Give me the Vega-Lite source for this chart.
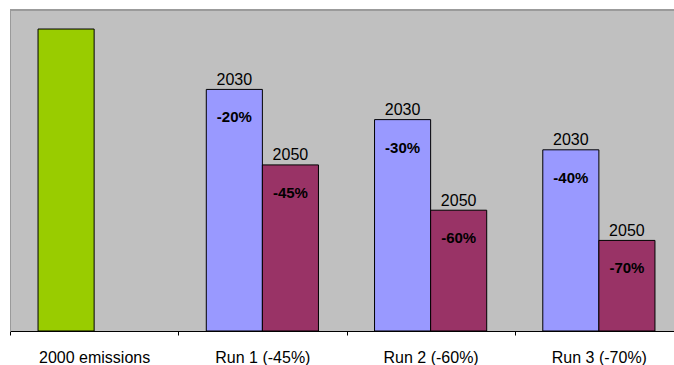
{
  "$schema": "https://vega.github.io/schema/vega-lite/v6.json",
  "autosize": "none",
  "padding": {"left": 10, "top": 10, "right": 0, "bottom": 34},
  "width": 664,
  "height": 321,
  "background": "#ffffff",
  "config": {
    "view": {"fill": "#c0c0c0", "stroke": null},
    "font": "Liberation Sans"
  },
  "data": {
    "values": [
      {"group": "2000 emissions", "slot": "a", "series": "2000", "value": 100, "year": "", "change": ""},
      {"group": "Run 1 (-45%)", "slot": "a", "series": "2030", "value": 80, "year": "2030", "change": "-20%"},
      {"group": "Run 1 (-45%)", "slot": "b", "series": "2050", "value": 55, "year": "2050", "change": "-45%"},
      {"group": "Run 2 (-60%)", "slot": "a", "series": "2030", "value": 70, "year": "2030", "change": "-30%"},
      {"group": "Run 2 (-60%)", "slot": "b", "series": "2050", "value": 40, "year": "2050", "change": "-60%"},
      {"group": "Run 3 (-70%)", "slot": "a", "series": "2030", "value": 60, "year": "2030", "change": "-40%"},
      {"group": "Run 3 (-70%)", "slot": "b", "series": "2050", "value": 30, "year": "2050", "change": "-70%"}
    ]
  },
  "layer": [
    {
      "description": "plot area top border",
      "mark": {"type": "rule", "color": "#9a9a9a", "strokeWidth": 1},
      "encoding": {
        "y": {"datum": 106.3, "type": "quantitative", "scale": {"domain": [0, 106.3], "nice": false, "zero": true}}
      }
    },
    {
      "mark": {"type": "bar", "stroke": "#000000", "strokeWidth": 1},
      "encoding": {
        "x": {
          "field": "group",
          "type": "nominal",
          "sort": null,
          "scale": {"range": [0, 673], "paddingInner": 0, "paddingOuter": 0},
          "axis": {
            "title": null,
            "labelAngle": 0,
            "labelFontSize": 16,
            "labelColor": "#000000",
            "labelPadding": 14,
            "tickBand": "extent",
            "tickSize": 4,
            "tickColor": "#000000",
            "domainColor": "#000000",
            "labelFont": "Liberation Sans"
          }
        },
        "xOffset": {
          "field": "slot",
          "type": "nominal",
          "scale": {"domain": ["a", "b"], "paddingInner": 0, "paddingOuter": 0.5}
        },
        "y": {
          "field": "value",
          "type": "quantitative",
          "axis": {"title": null, "labels": false, "ticks": false, "grid": false, "domainColor": "#9a9a9a"}
        },
        "color": {
          "field": "series",
          "type": "nominal",
          "scale": {"domain": ["2000", "2030", "2050"], "range": ["#99cc00", "#9999ff", "#993366"]},
          "legend": null
        }
      }
    },
    {
      "mark": {"type": "text", "baseline": "alphabetic", "dy": -4.5, "fontSize": 16, "color": "#000000"},
      "encoding": {
        "x": {"field": "group", "type": "nominal", "sort": null},
        "xOffset": {"field": "slot", "type": "nominal"},
        "y": {"field": "value", "type": "quantitative"},
        "text": {"field": "year"}
      }
    },
    {
      "mark": {"type": "text", "baseline": "middle", "dy": 28, "fontSize": 15, "fontWeight": "bold", "color": "#000000"},
      "encoding": {
        "x": {"field": "group", "type": "nominal", "sort": null},
        "xOffset": {"field": "slot", "type": "nominal"},
        "y": {"field": "value", "type": "quantitative"},
        "text": {"field": "change"}
      }
    }
  ]
}
